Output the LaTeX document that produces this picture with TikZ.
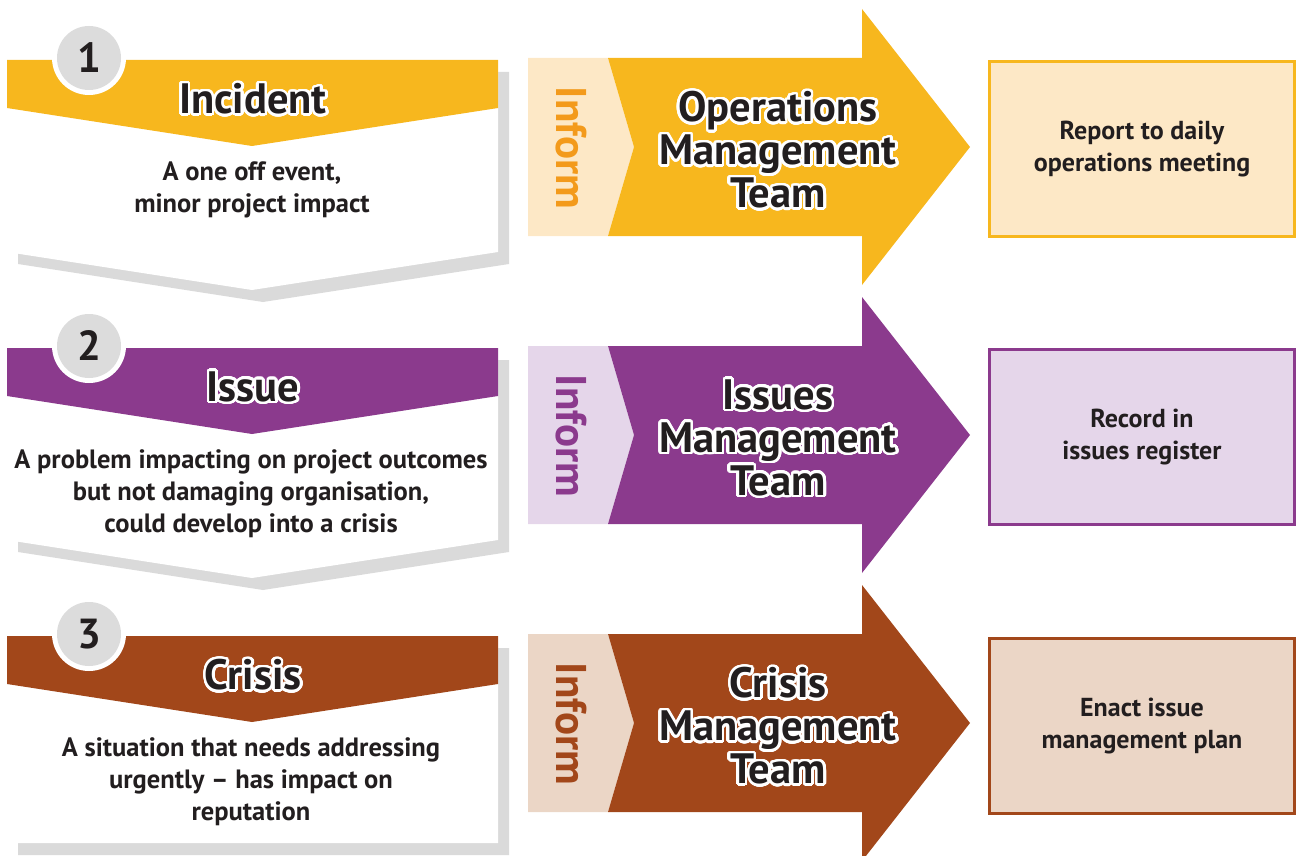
\documentclass[tikz,border=0pt]{standalone}
\usepackage{fontspec}
\setmainfont{PT Sans}
\usepackage[copies]{contour}
\contourlength{2.5pt}
\contournumber{40}

\definecolor{incyel}{HTML}{F7B71E}
\definecolor{incyellight}{HTML}{FDE8C6}
\definecolor{incorange}{HTML}{F39A1B}
\definecolor{isspur}{HTML}{8B3A8D}
\definecolor{isspurlight}{HTML}{E5D6EA}
\definecolor{cribro}{HTML}{A2471A}
\definecolor{cribrolight}{HTML}{EBD6C6}
\definecolor{shadowgray}{HTML}{DADADA}
\definecolor{badgegray}{HTML}{DCDCDC}
\definecolor{inkblack}{HTML}{221E1F}

\newcommand{\halo}[1]{\contour{white}{#1}}

\begin{document}
\begin{tikzpicture}[x=1pt, y=-1pt,
  heading/.style = {font=\fontsize{42.5}{45}\selectfont\bfseries, text=inkblack, inner sep=0pt},
  number/.style = {font=\fontsize{42}{42}\selectfont\bfseries, text=inkblack, inner sep=0pt},
  desc/.style = {font=\fontsize{26.5}{32}\selectfont\bfseries, text=inkblack, align=center, inner sep=0pt},
  inform/.style = {font=\fontsize{43}{43}\selectfont\bfseries, rotate=-90, inner sep=0pt},
  team/.style = {font=\fontsize{42.5}{43}\selectfont\bfseries, text=inkblack, align=center, inner sep=0pt},
  action/.style = {draw=#1, line width=3pt, minimum width=305pt, minimum height=175pt,
    font=\fontsize{26}{32}\selectfont\bfseries, text=inkblack, align=center}]

\useasboundingbox (0,0) rectangle (1296,856);

% Panels and arrows
\foreach \y/\col/\light/\b/\d in {0/incyel/incyellight/252/38, 288/isspur/isspurlight/252/38, 576/cribro/cribrolight/267/0} {
  \begin{scope}[shift={(0,\y)}]
    % Shadow
    \fill[shadowgray] (18,72) -- (509,72) -- (509,\b+12) -- (263,\b+\d+12) -- (18,\b+12) -- cycle;
    % Body
    \fill[white] (7,60) -- (498,60) -- (498,\b) -- (252,\b+\d) -- (7,\b) -- cycle;
    % Banner
    \fill[\col] (7,60) -- (498,60) -- (498,108) -- (252,146) -- (7,108) -- cycle;
    % Arrow
    \fill[\light] (528,58) -- (608,58) -- (634,147) -- (608,236) -- (528,236) -- cycle;
    \fill[\col] (608,58) -- (862,58) -- (862,9) -- (970,147) -- (862,285) -- (862,236) -- (608,236) -- (634,147) -- cycle;
    % Badge
    \fill[white] (89,58) circle (37);
    \fill[badgegray] (89,58) circle (32);
  \end{scope}
}

% Numbers
\node[number] (num1) at (89,58) {1};
\node[number] (num2) at (89,346) {2};
\node[number] (num3) at (89,634) {3};

% Headings
\node[heading] (incident) at (253,100) {\halo{Incident}};
\node[heading] (issue) at (253,388) {\halo{Issue}};
\node[heading] (crisis) at (253,676) {\halo{Crisis}};

% Descriptions
\node[desc] (incidentdesc) at (252,190) {A one off event,\\minor project impact};
\node[desc] (issuedesc) at (251,494) {A problem impacting on project outcomes\\but not damaging organisation,\\could develop into a crisis};
\node[desc] (crisisdesc) at (251,782) {A situation that needs addressing\\urgently -- has impact on\\reputation};

% Inform
\node[inform, text=incorange] (inform1) at (571,148) {Inform};
\node[inform, text=isspur] (inform2) at (571,436) {Inform};
\node[inform, text=cribro] (inform3) at (571,724) {Inform};

% Teams
\node[team] (opsteam) at (778,151) {\halo{Operations}\\\halo{Management}\\\halo{Team}};
\node[team] (issteam) at (778,439) {\halo{Issues}\\\halo{Management}\\\halo{Team}};
\node[team] (critteam) at (778,727) {\halo{Crisis}\\\halo{Management}\\\halo{Team}};

% Actions
\node[action=incyel, fill=incyellight] (report) at (1142,149) {Report to daily\\operations meeting};
\node[action=isspur, fill=isspurlight] (record) at (1142,437) {Record in\\issues register};
\node[action=cribro, fill=cribrolight] (enact) at (1142,726) {Enact issue\\management plan};

\end{tikzpicture}
\end{document}
